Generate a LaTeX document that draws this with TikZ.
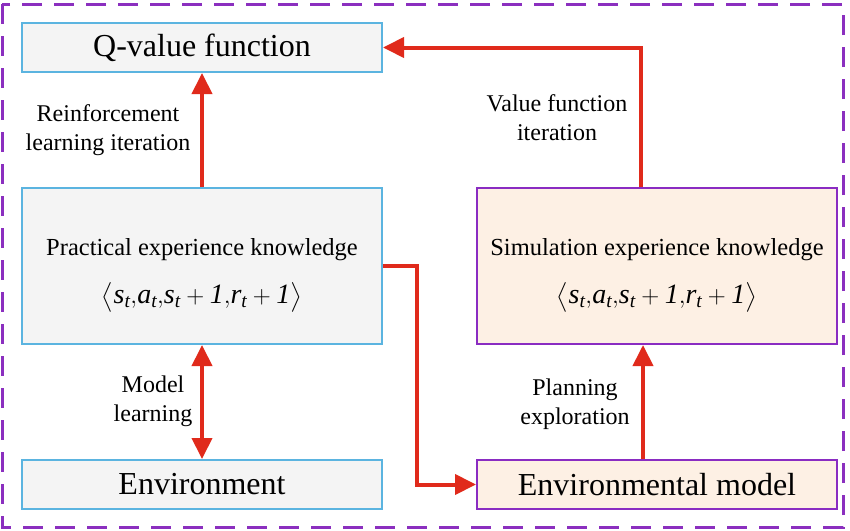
\documentclass[tikz,border=0pt]{standalone}
\usepackage{amsmath}
\usepackage{fontspec}
\setmainfont{Liberation Serif}
\usetikzlibrary{arrows.meta}
\definecolor{boxblue}{HTML}{5BB4E0}
\definecolor{boxgray}{HTML}{F4F4F4}
\definecolor{boxpurple}{HTML}{8A2CC2}
\definecolor{boxpeach}{HTML}{FDF0E4}
\definecolor{flowred}{HTML}{E02A1B}
\definecolor{framepurple}{HTML}{8B2FBF}
\newcommand{\tuple}{{\fontsize{28}{34}\selectfont$\big\langle \textit{s}_{\textit{t}}{,}\textit{a}_{\textit{t}}{,}\textit{s}_{\textit{t}}+\textit{1}{,}\textit{r}_{\textit{t}}+\textit{1}\big\rangle$}}
\begin{document}
\begin{tikzpicture}[x=1pt,y=-1pt]
 \tikzset{realbox/.style={draw=boxblue, fill=boxgray, line width=2pt, minimum width=360pt, inner sep=0pt},
   simbox/.style={draw=boxpurple, fill=boxpeach, line width=2pt, minimum width=360pt, inner sep=0pt},
   flow/.style={draw=flowred, line width=4pt, -{Triangle[length=21pt,width=20pt]}},
   lbl/.style={align=center, font=\fontsize{24}{29}\selectfont}}
  \useasboundingbox (0,0) rectangle (850,530);
  \draw[framepurple, line width=3pt, dash pattern=on 20pt off 12pt] (2,4) rectangle (843,527);
  % left column
  \node[realbox, minimum height=49pt, font=\fontsize{32}{36}\selectfont] (q) at (202,47.5) {Q-value function};
  \node[realbox, minimum height=156pt, align=center, font=\fontsize{24.5}{36}\selectfont] (prac) at (202,266) {\rule{0pt}{36pt}Practical experience knowledge\\[12pt] \tuple};
  \node[realbox, minimum height=49pt, font=\fontsize{32}{36}\selectfont] (env) at (202,484.5) {Environment};
  % right column
  \node[simbox, minimum height=156pt, align=center, font=\fontsize{24.5}{36}\selectfont] (sim) at (657,266) {\rule{0pt}{36pt}Simulation experience knowledge\\[12pt] \tuple};
  \node[simbox, minimum height=49pt, font=\fontsize{32}{36}\selectfont] (model) at (657,484.5) {Environmental model};
  % arrows
  \draw[flow] (prac.north) -- (q.south);
  \draw[flow] ([xshift=-16pt]sim.north) |- (q.east);
  \draw[flow] (prac.east) -- ++(34,0) |- (model.west);
  \draw[flow, {Triangle[length=21pt,width=20pt]}-{Triangle[length=21pt,width=20pt]}] (prac.south) -- (env.north);
  \draw[flow] ([xshift=-14pt]model.north) -- ([xshift=-14pt]sim.south);
  % labels
  \node[lbl] (rl) at (108,130) {Reinforcement\\learning iteration};
  \node[lbl] (vf) at (557,118) {Value function\\iteration};
  \node[lbl] (ml) at (153,401) {Model\\learning};
  \node[lbl] (pe) at (575,404) {Planning\\exploration};
\end{tikzpicture}
\end{document}
